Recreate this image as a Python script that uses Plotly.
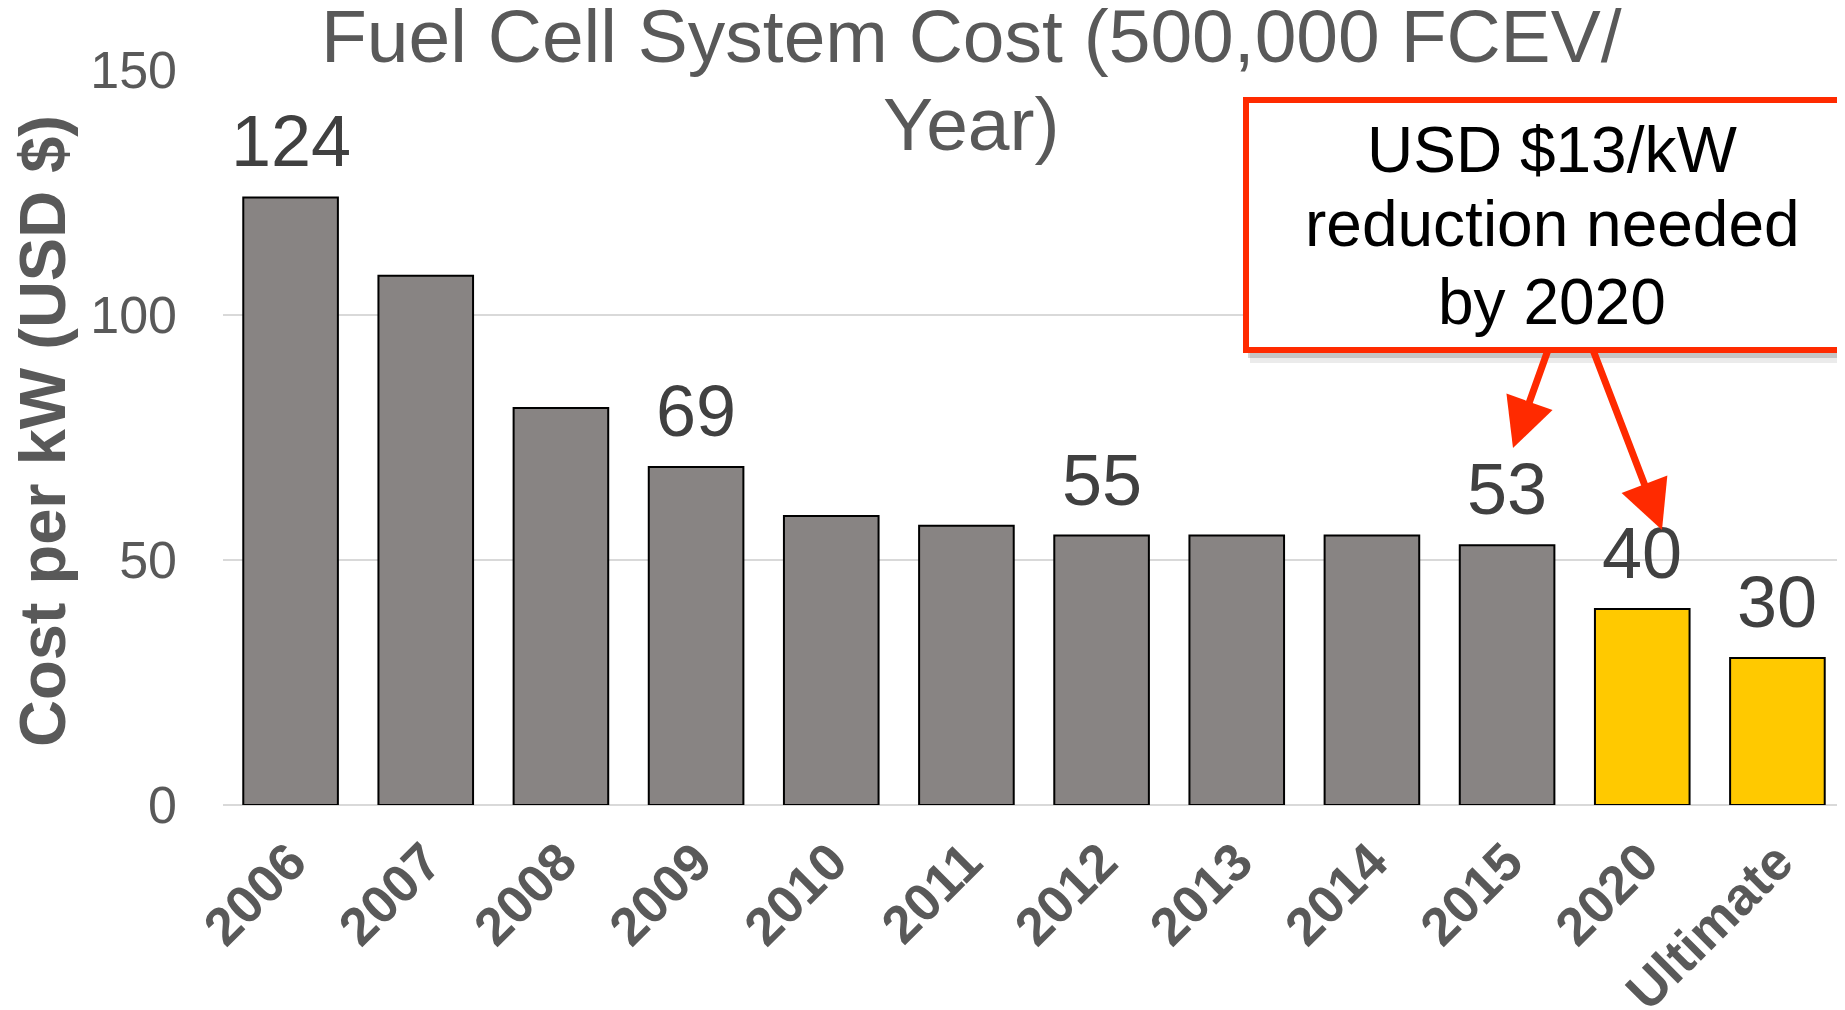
import plotly.graph_objects as go

# ---- data ----
categories = ["2006", "2007", "2008", "2009", "2010", "2011", "2012",
              "2013", "2014", "2015", "2020", "Ultimate"]
cost_per_kw = [124, 108, 81, 69, 59, 57, 55, 55, 55, 53, 40, 30]
is_target = [False] * 10 + [True, True]
labelled = ["2006", "2009", "2012", "2015", "2020", "Ultimate"]
y_ticks = [0, 50, 100, 150]

title_lines = ["Fuel Cell System Cost (500,000 FCEV/", "Year)"]
callout_lines = ["USD $13/kW", "reduction needed", "by 2020"]
y_title = "Cost per kW (USD $)"

# ---- layout geometry ----
# Targets are in screen pixels; the page body adds an 8px margin,
# so the figure's own coordinates are the screen ones minus 8.
OFF = 8
W, H = 1845, 1010
PLOT_L, PLOT_R, PLOT_T, PLOT_B = 223, 1845, 70, 805   # screen coords
L = PLOT_L - OFF
T = PLOT_T - OFF
R = W - (PLOT_R - OFF)
B = H - (PLOT_B - OFF)
PW = PLOT_R - PLOT_L
PH = PLOT_B - PLOT_T


def px(x):
    return (x - PLOT_L) / PW


def py(y):
    return (PLOT_B - y) / PH


GRAY = "#888483"
YELLOW = "#FFC900"
TXT = "#595959"
LBL = "#404040"
RED = "#FF2A00"
FONT = "Liberation Sans, Arial, sans-serif"

fig = go.Figure()
fig.add_trace(go.Bar(
    x=categories,
    y=cost_per_kw,
    marker=dict(color=[YELLOW if t else GRAY for t in is_target],
                line=dict(color="#000000", width=2)),
    width=0.7,
    hoverinfo="x+y",
))

annotations = []
# value labels (category axis: position by index)
for i, (c, v) in enumerate(zip(categories, cost_per_kw)):
    if c in labelled:
        annotations.append(dict(
            x=i, y=v, xref="x", yref="y", text=str(v), showarrow=False,
            yanchor="bottom", yshift=14,
            font=dict(family=FONT, size=72, color=LBL)))

# title (two lines)
TFS = 75
for line, base in zip(title_lines, [63, 151]):
    annotations.append(dict(
        x=px(971), y=py(base + 0.212 * TFS + 1), xref="paper", yref="paper",
        text=line, showarrow=False, xanchor="center", yanchor="bottom",
        font=dict(family=FONT, size=TFS, color=TXT)))

# y-axis title
annotations.append(dict(
    x=px(42), y=py(431), xref="paper", yref="paper", text="<b>" + y_title + "</b>",
    showarrow=False, textangle=-90, xanchor="center", yanchor="middle",
    font=dict(family=FONT, size=65, color=TXT)))

# callout text
CFS = 64
for line, base in zip(callout_lines, [173, 247, 325]):
    annotations.append(dict(
        x=px(1552), y=py(base + 0.212 * CFS + 1), xref="paper", yref="paper",
        text=line, showarrow=False, xanchor="center", yanchor="bottom",
        font=dict(family=FONT, size=CFS, color="#000000")))

# arrows
for head, tail in [((1513, 448), (1548, 350)), ((1662, 530), (1593, 350))]:
    annotations.append(dict(
        x=px(head[0]), y=py(head[1]), xref="paper", yref="paper",
        ax=tail[0] - head[0], ay=tail[1] - head[1], axref="pixel", ayref="pixel",
        text="", showarrow=True, arrowhead=2, arrowsize=1.4, arrowwidth=7,
        arrowcolor=RED, standoff=0, startstandoff=0))

shapes = [
    # shadow
    dict(type="rect", xref="paper", yref="paper", layer="above",
         x0=px(1250), x1=px(1880), y0=py(363), y1=py(108),
         fillcolor="rgba(0,0,0,0.08)", line=dict(width=0)),
    dict(type="rect", xref="paper", yref="paper", layer="above",
         x0=px(1248), x1=px(1880), y0=py(358), y1=py(104),
         fillcolor="rgba(0,0,0,0.16)", line=dict(width=0)),
    # callout box
    dict(type="rect", xref="paper", yref="paper", layer="above",
         x0=px(1246), x1=px(1880), y0=py(350), y1=py(100),
         fillcolor="#FFFFFF", line=dict(color=RED, width=6)),
]

fig.update_layout(
    width=W, height=H,
    margin=dict(l=L, r=R, t=T, b=B, pad=0),
    paper_bgcolor="#FFFFFF", plot_bgcolor="#FFFFFF",
    showlegend=False,
    bargap=0.3,
    font=dict(family=FONT, color=TXT),
    annotations=annotations,
    shapes=shapes,
    xaxis=dict(
        type="category", range=[-0.5, len(categories) - 0.5],
        tickangle=-45, showgrid=False, showline=False, zeroline=False,
        ticks="", ticklabelstandoff=14, automargin=False,
        tickfont=dict(family=FONT, size=53, color=TXT, weight="bold"),
    ),
    yaxis=dict(
        range=[0, 150], tickvals=y_ticks, ticktext=[str(t) for t in y_ticks],
        showgrid=True, gridcolor="#D9D9D9", gridwidth=2,
        zeroline=True, zerolinecolor="#D9D9D9", zerolinewidth=2,
        showline=False, ticks="", ticklabelstandoff=45, automargin=False,
        tickfont=dict(family=FONT, size=52, color=TXT),
    ),
)

fig.write_html("out.html", config={"displayModeBar": False})
